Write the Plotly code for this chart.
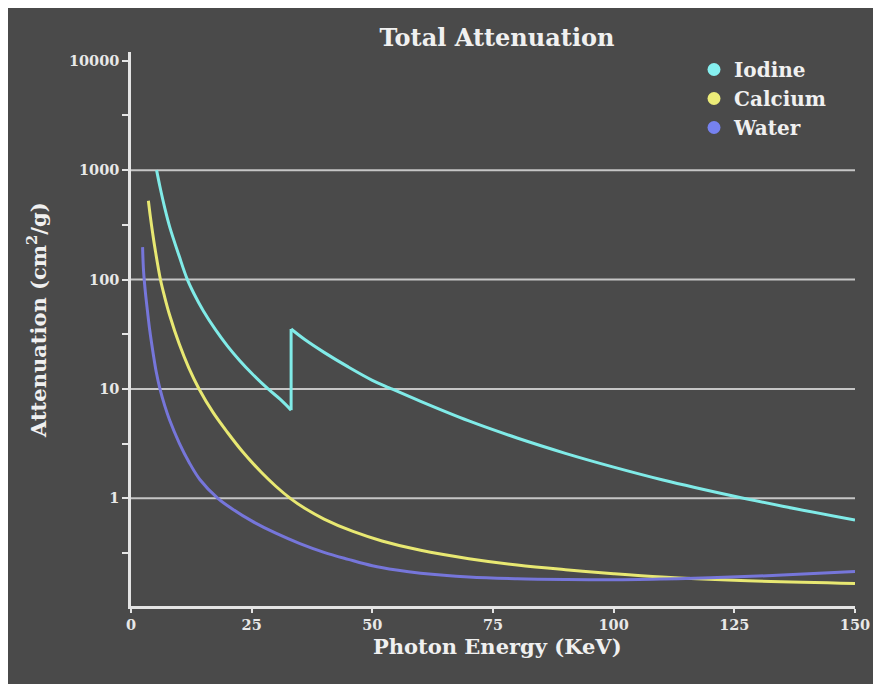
import plotly.graph_objects as go

# ---- data ----
series_names = ["Iodine", "Calcium", "Water"]

iodine_pre_E = [5.3, 6, 7, 8, 10, 11.6, 13, 15, 17.5, 20, 22.5, 25, 28.4, 31, 33.17]
iodine_pre_mu = [1000, 705, 450, 305, 163, 102, 75, 51.6, 34.8, 24.6, 18.2, 13.9, 10, 7.98, 6.4]
iodine_post_E = [33.17, 36, 40, 45, 50, 53.6, 60, 70, 80, 90, 100, 110, 125, 135, 150]
iodine_post_mu = [35.3, 28.3, 21.6, 15.9, 12.0, 10.2, 7.7, 5.1, 3.56, 2.58, 1.93, 1.48, 1.045, 0.847, 0.633]

calcium_E = [3.6, 4, 4.5, 5, 6.1, 7, 8, 10, 12, 14.1, 17, 20, 23, 27, 30, 33, 36, 40, 46, 52, 60, 70, 80, 90, 100, 110, 125, 150]
calcium_mu = [525, 378, 263, 189, 100, 68.5, 47.4, 25.7, 15.5, 10, 6.1, 4.0, 2.71, 1.73, 1.29, 1.0, 0.811, 0.647, 0.498, 0.408, 0.335, 0.281, 0.246, 0.223, 0.205, 0.191, 0.178, 0.167]

water_E = [2.4, 2.6, 3, 3.4, 3.9, 4.6, 5.2, 6.0, 7, 8, 10, 12, 14.3, 18, 21, 25, 30, 35, 40, 45, 50, 55, 60, 70, 80, 90, 100, 110, 120, 135, 150]
water_mu = [198, 120, 75, 52, 34, 21, 14.5, 10, 7.0, 5.2, 3.2, 2.15, 1.48, 1.0, 0.80, 0.622, 0.48, 0.386, 0.321, 0.277, 0.242, 0.221, 0.207, 0.191, 0.184, 0.181, 0.18, 0.183, 0.188, 0.199, 0.214]

x_tick_vals = [0, 25, 50, 75, 100, 125, 150]
y_tick_vals = [1, 10, 100, 1000, 10000]
y_tick_text = ["1", "10", "100", "1000", "10000"]
y_minor_vals = [0.316, 3.16, 31.6, 316, 3162]
y_grid_vals = [1, 10, 100, 1000]

# ---- styles ----
BG = "#4a4a4a"
C_IOD = "#80ebe8"
C_CA = "#e8e872"
C_W = "#7676da"
LEG_COL = {"Iodine": "#86f0f0", "Calcium": "#ecec78", "Water": "#7682f0"}
TXT = "#f0f0f0"
AX = "#e4e4e4"
FONT = "DejaVu Serif"
LW = 3

fig = go.Figure()

spl = dict(shape="spline", smoothing=1.0)
# Iodine: pre-edge, K-edge jump, post-edge
fig.add_trace(go.Scatter(x=iodine_pre_E, y=iodine_pre_mu, mode="lines",
                         line=dict(color=C_IOD, width=LW, **spl), showlegend=False, hoverinfo="skip"))
fig.add_trace(go.Scatter(x=[iodine_pre_E[-1], iodine_post_E[0]],
                         y=[iodine_pre_mu[-1], iodine_post_mu[0]], mode="lines",
                         line=dict(color=C_IOD, width=LW), showlegend=False, hoverinfo="skip"))
fig.add_trace(go.Scatter(x=iodine_post_E, y=iodine_post_mu, mode="lines",
                         line=dict(color=C_IOD, width=LW, **spl), showlegend=False, hoverinfo="skip"))
fig.add_trace(go.Scatter(x=calcium_E, y=calcium_mu, mode="lines",
                         line=dict(color=C_CA, width=LW, **spl), showlegend=False, hoverinfo="skip"))
fig.add_trace(go.Scatter(x=water_E, y=water_mu, mode="lines",
                         line=dict(color=C_W, width=LW, **spl), showlegend=False, hoverinfo="skip"))

# legend entries (circle markers)
for name in series_names:
    fig.add_trace(go.Scatter(x=[None], y=[None], mode="markers", name=f"<b>{name}</b>",
                             marker=dict(color=LEG_COL[name], size=13, symbol="circle")))

# figure geometry (page has an 8px white body margin at left/top)
W, H = 881, 684
L, R, T, B = 123, 847, 44, 598
pw, ph = R - L, B - T

def px(x):
    return (x - L) / pw

def py(y):
    return (B - y) / ph

shapes = []
for gv in y_grid_vals:
    shapes.append(dict(type="line", xref="paper", yref="y", x0=0, x1=1, y0=gv, y1=gv,
                       line=dict(color="#c6c6c6", width=2), layer="below"))

fig.update_layout(
    width=W, height=H,
    margin=dict(l=L, r=W - R, t=T, b=H - B, pad=0),
    paper_bgcolor=BG, plot_bgcolor=BG,
    font=dict(family=FONT, color=TXT),
    title=dict(text="<b>Total Attenuation</b>", x=489 / W, xref="container", xanchor="center",
               y=1 - 30 / H, yref="container", yanchor="middle",
               font=dict(family=FONT, size=24, color=TXT)),
    showlegend=True,
    legend=dict(x=px(686), y=py(42), xanchor="left", yanchor="top",
                bgcolor="rgba(0,0,0,0)", font=dict(family=FONT, size=20, color=TXT),
                itemsizing="trace", tracegroupgap=0),
    shapes=shapes,
    annotations=[
        dict(text="<b>Attenuation (cm<sup>2</sup>/g)</b>", xref="paper", yref="paper",
             x=px(29), y=py(312), textangle=-90, showarrow=False,
             xanchor="center", yanchor="middle", font=dict(family=FONT, size=21, color=TXT)),
        dict(text="<b>Photon Energy (KeV)</b>", xref="paper", yref="paper",
             x=px(489), y=py(638), showarrow=False,
             xanchor="center", yanchor="middle", font=dict(family=FONT, size=21, color=TXT)),
    ],
)

fig.update_xaxes(range=[0, 150], tickvals=x_tick_vals, ticktext=[f"<b>{v}</b>" for v in x_tick_vals],
                 showgrid=False, zeroline=False, showline=True, linecolor=AX, linewidth=2.5,
                 ticks="outside", ticklen=4, tickwidth=2, tickcolor=AX,
                 tickfont=dict(family=FONT, size=14.5, color="#e8e8e8"), fixedrange=True)
fig.update_yaxes(type="log", range=[-0.984, 4.08], tickvals=y_tick_vals,
                 ticktext=[f"<b>{t}</b>" for t in y_tick_text],
                 showgrid=False, zeroline=False, showline=True, linecolor=AX, linewidth=2.5,
                 ticks="outside", ticklen=6, tickwidth=2, tickcolor=AX,
                 minor=dict(tickvals=y_minor_vals, ticks="outside", ticklen=6, tickwidth=2,
                            tickcolor=AX, showgrid=False),
                 tickfont=dict(family=FONT, size=14.5, color="#e8e8e8"), fixedrange=True)

fig.write_html("out.html")
